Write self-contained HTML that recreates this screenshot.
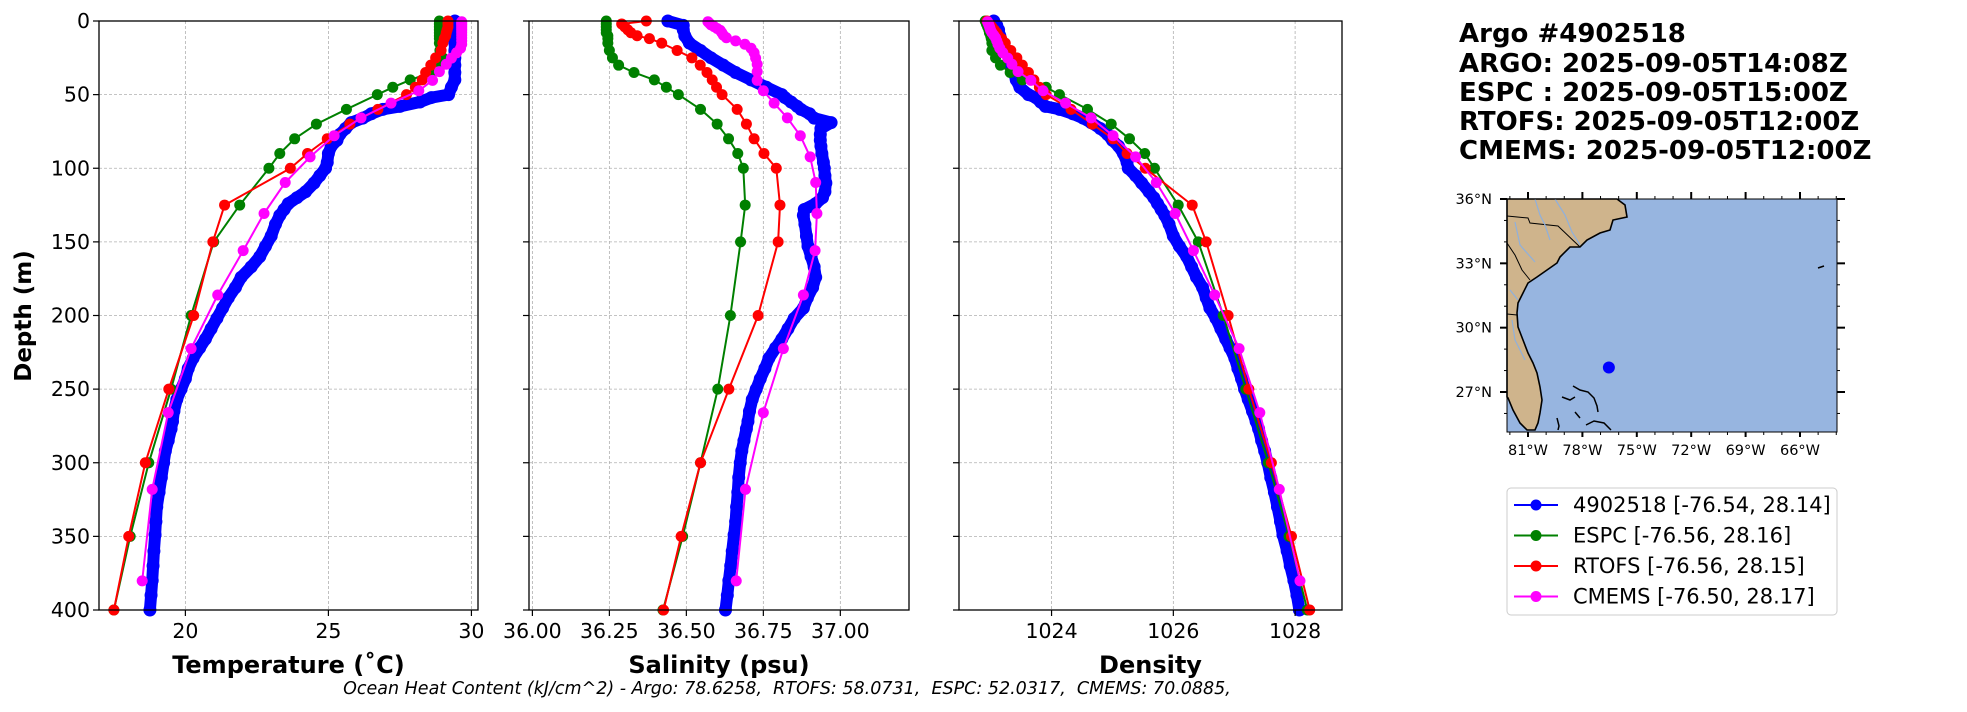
<!DOCTYPE html>
<html><head><meta charset="utf-8">
<style>
html,body{margin:0;padding:0;background:#fff;}
svg{display:block;font-family:"DejaVu Sans","Liberation Sans",sans-serif;}
</style></head>
<body>
<svg id="fig" width="1967" height="712" viewBox="0 0 1967 712" xmlns="http://www.w3.org/2000/svg">
<rect x="0" y="0" width="1967" height="712" fill="#fff"/>
<g id="panels"></g>
<g id="title-block" font-weight="bold" font-size="26" fill="#000">
<text x="1459" y="42">Argo #4902518</text>
<text x="1459" y="72">ARGO: 2025-09-05T14:08Z</text>
<text x="1459" y="101">ESPC : 2025-09-05T15:00Z</text>
<text x="1459" y="130">RTOFS: 2025-09-05T12:00Z</text>
<text x="1459" y="159">CMEMS: 2025-09-05T12:00Z</text>
</g>
<g id="map">
<rect x="1507" y="199" width="330" height="233" fill="#97b5e0"/>
<polygon fill="#cfb48c" stroke="#000" stroke-width="1.6" points="1507,199 1617,199 1625,205 1627,217 1613,220 1610,230 1600,233 1587,240 1580,247 1570,247 1560,257 1557,263 1547,270 1537,277 1528,283 1523,293 1518,303 1517,313 1518,327 1523,340 1528,353 1533,363 1537,373 1540,387 1542,400 1540,413 1538,423 1535,430 1527,430 1520,423 1513,410 1508,398 1507,397"/>
<g stroke="#000" stroke-width="1" fill="none">
<polyline points="1507,216 1528,218 1530,223 1558,226 1580,247"/>
<polyline points="1507,243 1515,255 1522,270 1530,280"/>
<polyline points="1507,314 1517,315"/>
</g>
<g stroke="#8fb0dc" stroke-width="1.2" fill="none">
<polyline points="1535,199 1540,215 1545,225 1550,240"/>
<polyline points="1555,199 1565,215 1572,232 1580,245"/>
<polyline points="1515,222 1520,245 1535,262"/>
<polyline points="1510,290 1518,300"/>
<polyline points="1512,320 1515,340 1525,360"/>
</g>
<g stroke="#000" stroke-width="1.5" fill="none">
<polyline points="1573,386 1580,390 1588,392 1594,398 1597,406 1598,412"/>
<polyline points="1562,397 1570,400 1575,397"/>
<polyline points="1586,425 1594,421 1604,423 1611,430"/>
<polyline points="1557,418 1559,426 1558,430"/>
<polyline points="1575,412 1580,418"/>
<polyline points="1818,268 1824,266"/>
</g>
<rect x="1507" y="199" width="330" height="233" fill="none" stroke="#000" stroke-width="1"/>
<g id="map-ticks"></g>
<circle id="map-dot" r="6" fill="#0000ff"/>
</g>
<g id="legend">
<rect x="1507" y="488" width="330" height="127" rx="4" fill="#fff" stroke="#cccccc" stroke-width="1"/>
</g>
<text x="787" y="694" text-anchor="middle" font-size="17.5" font-style="italic" style="white-space:pre">Ocean Heat Content (kJ/cm^2) - Argo: 78.6258,  RTOFS: 58.0731,  ESPC: 52.0317,  CMEMS: 70.0885,</text>
</svg>
<script>
// ---------- data ----------
const argoDepth = [0,3,6,10,15,20,25,30,35,40,45,50,52,55,58,60,63,66,69,73,77,81,85,90,96,100,105,110,116,120,124,128,132,138,146,153,160,167,174,181,188,195,202,209,216,222,229,236,243,250,257,265,272,277,285,292,300,310,320,330,340,349,360,370,380,390,400];
const argoTemp = [29.42,29.42,29.42,29.42,29.42,29.42,29.42,29.42,29.42,29.42,29.3,29.2,28.6,28.2,27.5,26.9,26.5,26.2,25.8,25.6,25.4,25.3,25.1,25.0,24.96,24.9,24.7,24.5,24.2,23.9,23.6,23.45,23.3,23.15,23.0,22.8,22.6,22.3,21.95,21.75,21.5,21.3,21.1,20.9,20.7,20.5,20.27,20.1,20.0,19.85,19.7,19.6,19.55,19.5,19.4,19.3,19.24,19.16,19.08,19.0,18.97,18.94,18.9,18.87,18.84,18.8,18.76];
const argoSal = [36.44,36.49,36.49,36.495,36.51,36.546,36.58,36.62,36.66,36.71,36.76,36.81,36.82,36.84,36.86,36.872,36.9,36.915,36.97,36.937,36.935,36.935,36.937,36.94,36.945,36.948,36.95,36.953,36.95,36.942,36.92,36.883,36.88,36.885,36.89,36.895,36.905,36.915,36.92,36.91,36.893,36.88,36.85,36.83,36.81,36.79,36.768,36.755,36.74,36.727,36.714,36.705,36.70,36.695,36.687,36.68,36.675,36.67,36.667,36.663,36.66,36.655,36.649,36.644,36.638,36.633,36.627];
const argoDens = [1023.05,1023.1,1023.13,1023.15,1023.2,1023.25,1023.3,1023.33,1023.38,1023.42,1023.48,1023.62,1023.74,1023.82,1023.9,1024.13,1024.35,1024.52,1024.65,1024.8,1024.92,1025.0,1025.1,1025.18,1025.24,1025.26,1025.38,1025.48,1025.6,1025.68,1025.74,1025.8,1025.86,1025.93,1026.0,1026.1,1026.22,1026.3,1026.38,1026.48,1026.54,1026.6,1026.7,1026.78,1026.86,1026.93,1027.01,1027.06,1027.12,1027.17,1027.23,1027.3,1027.36,1027.4,1027.45,1027.5,1027.55,1027.6,1027.66,1027.71,1027.76,1027.8,1027.87,1027.92,1027.98,1028.03,1028.07];

const espcDepth = [0,2,4,6,8,10,12,15,20,25,30,35,40,45,50,60,70,80,90,100,125,150,200,250,300,350,400];
const espcTemp = [28.88,28.88,28.88,28.88,28.88,28.88,28.88,28.88,28.9,29.0,28.95,28.6,27.86,27.25,26.71,25.63,24.58,23.82,23.3,22.92,21.9,20.99,20.2,19.5,18.72,18.07,17.5];
const espcSal = [36.24,36.24,36.24,36.24,36.24,36.245,36.245,36.245,36.25,36.26,36.28,36.33,36.396,36.435,36.474,36.546,36.6,36.637,36.667,36.685,36.691,36.676,36.643,36.602,36.546,36.488,36.424];
const espcDens = [1022.91,1022.93,1022.95,1022.97,1022.98,1023.0,1023.01,1023.02,1023.02,1023.08,1023.16,1023.32,1023.52,1023.91,1024.13,1024.59,1024.98,1025.28,1025.53,1025.69,1026.08,1026.41,1026.82,1027.19,1027.56,1027.9,1028.2];

const rtofsDepth = [0,2,4,6,8,10,12,15,20,25,30,35,40,45,50,60,70,80,90,100,125,150,200,250,300,350,400];
const rtofsTemp = [29.18,29.18,29.18,29.15,29.12,29.1,29.05,29.0,28.94,28.75,28.58,28.4,28.28,28.04,27.73,26.73,25.75,24.96,24.27,23.67,21.37,20.96,20.29,19.42,18.6,18.02,17.5];
const rtofsSal = [36.37,36.29,36.3,36.31,36.32,36.34,36.38,36.42,36.47,36.518,36.545,36.567,36.584,36.598,36.616,36.665,36.695,36.72,36.752,36.792,36.804,36.798,36.733,36.638,36.546,36.483,36.426];
const rtofsDens = [1022.94,1022.98,1023.02,1023.06,1023.1,1023.13,1023.18,1023.24,1023.33,1023.43,1023.52,1023.62,1023.71,1023.8,1023.91,1024.32,1024.67,1025.01,1025.24,1025.54,1026.31,1026.54,1026.9,1027.24,1027.61,1027.94,1028.24];

const cmemsDepth = [0.5,1.5,2.6,3.8,5.1,6.4,7.9,9.6,11.4,13.5,15.8,18.5,21.6,25.2,29.4,34.4,40.3,47.4,55.8,65.8,77.9,92.3,109.7,130.7,155.9,186.1,222.5,266.0,318.1,380.2];
const cmemsTemp = [29.66,29.66,29.66,29.66,29.66,29.66,29.66,29.66,29.66,29.66,29.66,29.62,29.48,29.3,29.12,28.88,28.64,28.16,27.19,26.14,25.2,24.36,23.49,22.75,22.02,21.13,20.2,19.4,18.84,18.49];
const cmemsSal = [36.57,36.575,36.58,36.59,36.6,36.61,36.615,36.62,36.63,36.66,36.69,36.71,36.72,36.725,36.73,36.73,36.73,36.75,36.785,36.828,36.87,36.902,36.92,36.924,36.918,36.88,36.815,36.75,36.692,36.662];
const cmemsDens = [1022.95,1022.96,1022.97,1022.98,1022.99,1023.0,1023.02,1023.05,1023.08,1023.1,1023.12,1023.15,1023.2,1023.28,1023.35,1023.45,1023.66,1023.86,1024.23,1024.65,1025.01,1025.38,1025.72,1026.03,1026.33,1026.68,1027.08,1027.42,1027.74,1028.08];

const depthTicks = [0,50,100,150,200,250,300,350,400];
const tempTicks = [20,25,30];
const salTicks = [36.00,36.25,36.50,36.75,37.00];
const salTickLabels = ["36.00","36.25","36.50","36.75","37.00"];
const densTicks = [1024,1026,1028];
const seriesNames = ["4902518 [-76.54, 28.14]","ESPC [-76.56, 28.16]","RTOFS [-76.56, 28.15]","CMEMS [-76.50, 28.17]"];
const argoLon = -76.54, argoLat = 28.14;
const lonTicks = [-81,-78,-75,-72,-69,-66];
const latTicks = [27,30,33,36];

// ---------- helpers ----------
const NS = "http://www.w3.org/2000/svg";
function mk(tag, attrs, parent){const e=document.createElementNS(NS,tag);for(const k in attrs)e.setAttribute(k,attrs[k]);if(parent)parent.appendChild(e);return e;}
const TOP=21, BOT=610;
const yScale = d => TOP + (d/400)*(BOT-TOP);
function linScale(v0,v1,p0,p1){return v=>p0+(v-v0)/(v1-v0)*(p1-p0);}

const panelsG = document.getElementById('panels');
const colors = ["#0000ff","#008000","#ff0000","#ff00ff"];

function drawPanel(cfg){
  const g = mk('g',{},panelsG);
  
  
  const x = linScale(cfg.vmin,cfg.vmax,cfg.left,cfg.right);
  cfg.ticks.forEach(t=>{const gl=mk('line',{x1:x(t),x2:x(t),y1:TOP,y2:BOT,stroke:'#b0b0b0','stroke-width':0.8,'stroke-dasharray':'3,2'},g);
    });
  depthTicks.forEach(t=>{const gl=mk('line',{x1:cfg.left,x2:cfg.right,y1:yScale(t),y2:yScale(t),stroke:'#b0b0b0','stroke-width':0.8,'stroke-dasharray':'3,2'},g);
    });
  cfg.series.forEach((s,i)=>{
    const sg = mk('g',{},g);
    
    
    const pts = s.vals.map((v,j)=>x(v).toFixed(1)+','+yScale(s.depth[j]).toFixed(1)).join(' ');
    mk('polyline',{points:pts,fill:'none',stroke:s.color,'stroke-width':s.lw,'stroke-linejoin':'round','stroke-linecap':'round'},sg);
    s.vals.forEach((v,j)=>{const c=mk('circle',{cx:x(v),cy:yScale(s.depth[j]),r:s.r,fill:s.color},sg);
      });
  });
  const fr=mk('rect',{x:cfg.left,y:TOP,width:cfg.right-cfg.left,height:BOT-TOP,fill:'none',stroke:'#000','stroke-width':1.3},g);
  
  cfg.ticks.forEach((t,i)=>{
    mk('line',{x1:x(t),x2:x(t),y1:BOT,y2:BOT+6,stroke:'#000','stroke-width':1.2},g);
    const tl=mk('text',{x:x(t),y:BOT+28,'text-anchor':'middle','font-size':20.5},g);
    tl.textContent = cfg.tickLabels ? cfg.tickLabels[i] : String(t);
    
  });
  depthTicks.forEach(t=>{
    mk('line',{x1:cfg.left-6,x2:cfg.left,y1:yScale(t),y2:yScale(t),stroke:'#000','stroke-width':1.2},g);
    if(cfg.yLabels){const tl=mk('text',{x:cfg.left-9,y:yScale(t)+7,'text-anchor':'end','font-size':20.5},g);
      tl.textContent=String(t);}
  });
  const xl=mk('text',{x:(cfg.left+cfg.right)/2,y:673,'text-anchor':'middle','font-size':24,'font-weight':'bold'},g);
  xl.textContent=cfg.xlabel;
  
}

const baseSeries = ()=>[
  {name:'argo-series',depth:argoDepth,color:colors[0],r:6.5,lw:12},
  {name:'espc-series',depth:espcDepth,color:colors[1],r:5.5,lw:2},
  {name:'rtofs-series',depth:rtofsDepth,color:colors[2],r:5.5,lw:2},
  {name:'cmems-series',depth:cmemsDepth,color:colors[3],r:5.5,lw:2}];

drawPanel({name:'temperature-panel',left:99,right:478,vmin:16.98,vmax:30.23,ticks:tempTicks,xlabel:'Temperature (˚C)',yLabels:true,
  series:baseSeries().map((s,i)=>Object.assign(s,{vals:[argoTemp,espcTemp,rtofsTemp,cmemsTemp][i]}))});
drawPanel({name:'salinity-panel',left:529,right:909,vmin:35.989,vmax:37.223,ticks:salTicks,tickLabels:salTickLabels,xlabel:'Salinity (psu)',
  series:baseSeries().map((s,i)=>Object.assign(s,{vals:[argoSal,espcSal,rtofsSal,cmemsSal][i]}))});
drawPanel({name:'density-panel',left:959,right:1342,vmin:1022.48,vmax:1028.77,ticks:densTicks,xlabel:'Density',
  series:baseSeries().map((s,i)=>Object.assign(s,{vals:[argoDens,espcDens,rtofsDens,cmemsDens][i]}))});

const yt=mk('text',{x:0,y:0,'text-anchor':'middle','font-size':23,'font-weight':'bold',transform:'translate(31,316) rotate(-90)'},panelsG);
yt.textContent='Depth (m)';



// ---------- map ticks ----------
const mt=document.getElementById('map-ticks');
const lonX = linScale(-81,-66,1528,1800);
const latY = linScale(36,27,199,392);
lonTicks.forEach(l=>{
  mk('line',{x1:lonX(l),x2:lonX(l),y1:432,y2:437,stroke:'#000','stroke-width':2},mt);
  mk('line',{x1:lonX(l),x2:lonX(l),y1:192,y2:199,stroke:'#000','stroke-width':2},mt);
  const t=mk('text',{x:lonX(l),y:455,'text-anchor':'middle','font-size':14.5},mt);
  t.textContent=Math.abs(l)+'°W';
  
  
});
for(let l=-82;l<=-64;l++){if(lonX(l)<1507||lonX(l)>1837)continue;
  mk('line',{x1:lonX(l),x2:lonX(l),y1:432,y2:435,stroke:'#000','stroke-width':1},mt);
  mk('line',{x1:lonX(l),x2:lonX(l),y1:196,y2:199,stroke:'#000','stroke-width':1},mt);}
latTicks.forEach(l=>{
  mk('line',{x1:1500,x2:1507,y1:latY(l),y2:latY(l),stroke:'#000','stroke-width':2},mt);
  mk('line',{x1:1837,x2:1845,y1:latY(l),y2:latY(l),stroke:'#000','stroke-width':2},mt);
  const t=mk('text',{x:1492,y:latY(l)+5,'text-anchor':'end','font-size':14.5},mt);
  t.textContent=l+'°N';
  
  
});
for(let l=26;l<=36;l++){
  mk('line',{x1:1504,x2:1507,y1:latY(l),y2:latY(l),stroke:'#000','stroke-width':1},mt);
  mk('line',{x1:1837,x2:1840,y1:latY(l),y2:latY(l),stroke:'#000','stroke-width':1},mt);}
const dot=document.getElementById('map-dot');
dot.setAttribute('cx',lonX(argoLon));
dot.setAttribute('cy',latY(argoLat));

// ---------- legend ----------
const lg=document.getElementById('legend');
seriesNames.forEach((n,i)=>{
  const y=505+i*30.5;
  const e=mk('g',{},lg);
  
  
  mk('line',{x1:1514,x2:1558,y1:y,y2:y,stroke:colors[i],'stroke-width':2},e);
  mk('circle',{cx:1536,cy:y,r:5.5,fill:colors[i]},e);
  const t=mk('text',{x:1573,y:y+7,'font-size':21},e);
  t.textContent=n;
});
</script>
</body></html>
